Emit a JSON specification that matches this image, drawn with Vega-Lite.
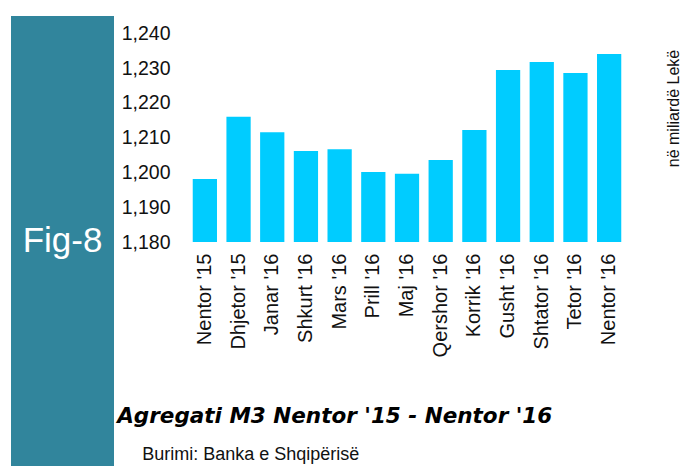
{
  "$schema": "https://vega.github.io/schema/vega-lite/v6.json",
  "padding": {"left": 11, "top": 16, "right": 0, "bottom": 0},
  "background": "white",
  "bounds": "flush",
  "spacing": 72,
  "config": {
    "view": {"stroke": null},
    "axis": {"grid": false, "domain": false, "ticks": false, "tickSize": 0, "labelColor": "#111111", "titleColor": "#111111"}
  },
  "hconcat": [
    {
      "width": 103,
      "height": 450,
      "view": {"fill": "#31859C", "stroke": null},
      "data": {"values": [{"label": "Fig-8"}]},
      "mark": {"type": "text", "color": "white", "font": "Liberation Sans", "fontSize": 35, "baseline": "middle", "align": "center"},
      "encoding": {"text": {"field": "label"}}
    },
    {
      "width": 442,
      "height": 226,
      "data": {"values": [
        {"month": "Nentor '15", "value": 1198.1},
        {"month": "Dhjetor '15", "value": 1216.0},
        {"month": "Janar '16", "value": 1211.6},
        {"month": "Shkurt '16", "value": 1206.2},
        {"month": "Mars '16", "value": 1206.7},
        {"month": "Prill '16", "value": 1200.1},
        {"month": "Maj '16", "value": 1199.6},
        {"month": "Qershor '16", "value": 1203.6},
        {"month": "Korrik '16", "value": 1212.2},
        {"month": "Gusht '16", "value": 1229.5},
        {"month": "Shtator '16", "value": 1231.8},
        {"month": "Tetor '16", "value": 1228.6},
        {"month": "Nentor '16", "value": 1234.1}
      ]},
      "title": {
        "text": "Agregati M3 Nentor '15 - Nentor '16",
        "subtitle": "\u200b\u00a0\u00a0\u00a0\u00a0\u00a0Burimi: Banka e Shqipërisë",
        "orient": "bottom",
        "anchor": "start",
        "frame": "bounds",
        "offset": 49,
        "dx": -4,
        "font": "DejaVu Sans",
        "fontSize": 21.5,
        "fontStyle": "italic",
        "fontWeight": "bold",
        "color": "#000000",
        "subtitleFont": "Liberation Sans",
        "subtitleFontSize": 18,
        "subtitleColor": "#111111",
        "subtitlePadding": 19
      },
      "resolve": {"axis": {"y": "independent"}},
      "layer": [
        {
          "mark": {"type": "bar", "color": "#00CCFF"},
          "encoding": {
            "x": {
              "field": "month", "type": "ordinal", "sort": null,
              "scale": {"paddingInner": 0.28, "paddingOuter": 0.2},
              "axis": {"title": null, "labelAngle": -90, "labelFont": "Liberation Sans", "labelFontSize": 20, "labelPadding": 11}
            },
            "y": {
              "field": "value", "type": "quantitative",
              "scale": {"domain": [1180, 1245], "zero": false, "nice": false},
              "axis": {"title": null, "orient": "left", "values": [1180, 1190, 1200, 1210, 1220, 1230, 1240], "format": ",.0f", "labelFont": "Liberation Sans", "labelFontSize": 19.5, "labelPadding": 16}
            },
            "y2": {"datum": 1180}
          }
        },
        {
          "mark": {"type": "bar", "opacity": 0},
          "encoding": {
            "x": {"field": "month", "type": "ordinal", "sort": null},
            "y": {
              "field": "value", "type": "quantitative",
              "scale": {"domain": [1180, 1245], "zero": false, "nice": false},
              "axis": {"orient": "right", "labels": false, "title": "në miliardë Lekë", "titleFont": "Liberation Sans", "titleFontSize": 16, "titleFontWeight": "normal", "titleAngle": 270, "titleBaseline": "middle", "titleAlign": "center", "titleX": 45, "titleY": 92}
            },
            "y2": {"datum": 1180}
          }
        }
      ]
    }
  ]
}
